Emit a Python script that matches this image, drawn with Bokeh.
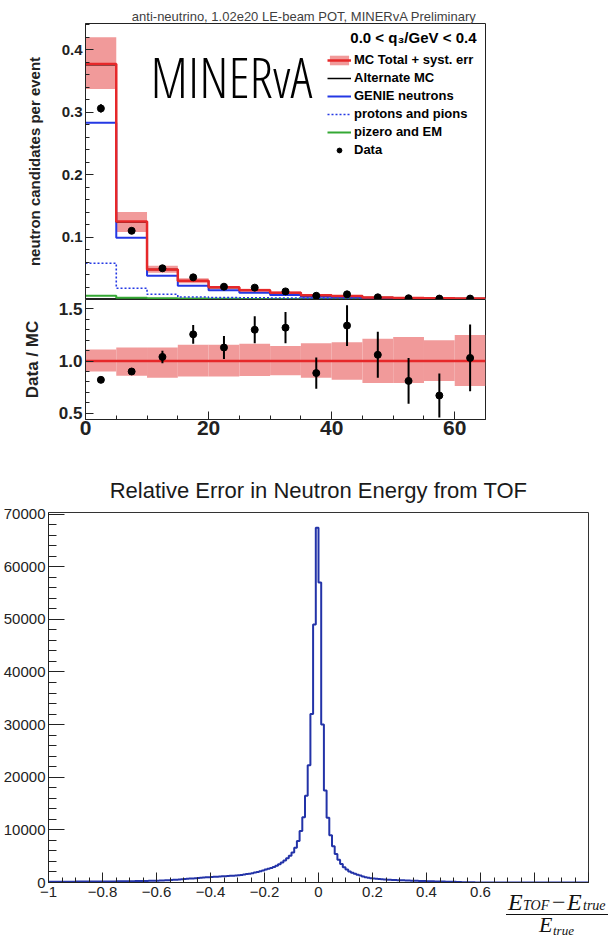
from bokeh.plotting import figure
from bokeh.models import (Range1d, FixedTicker, Label, Legend, LegendItem, Title, Div)
from bokeh.embed import file_html
from bokeh.resources import INLINE

# ---------------- top: MINERvA neutron candidates ----------------
bin_edges = [0, 5, 10, 15, 20, 25, 30, 35, 40, 45, 50, 55, 60, 65]
bin_centers = [2.5, 7.5, 12.5, 17.5, 22.5, 27.5, 32.5, 37.5, 42.5, 47.5, 52.5, 57.5, 62.5]

mc_total = [0.377, 0.125, 0.048, 0.030, 0.0195, 0.015, 0.011, 0.0067, 0.0058, 0.0032, 0.0025, 0.0020, 0.0015]
mc_band_hi = [0.420, 0.140, 0.054, 0.034, 0.0218, 0.0172, 0.0127, 0.0079, 0.0068, 0.0039, 0.0031, 0.0025, 0.0019]
mc_band_lo = [0.337, 0.108, 0.043, 0.026, 0.0172, 0.0128, 0.0094, 0.0056, 0.0046, 0.0025, 0.0019, 0.0015, 0.0011]
alt_mc = [0.376, 0.124, 0.048, 0.030, 0.0194, 0.015, 0.011, 0.0066, 0.0057, 0.0032, 0.0025, 0.0020, 0.0015]
genie_neutrons = [0.283, 0.099, 0.038, 0.022, 0.0147, 0.011, 0.0072, 0.0045, 0.0040, 0.0020, 0.0015, 0.0012, 0.0010]
protons_pions = [0.058, 0.018, 0.0083, 0.0040, 0.0030, 0.0028, 0.0025, 0.0022, 0.0022, 0.0012, 0.0010, 0.0008, 0.0006]
pizero_em = [0.006, 0.003, 0.0022, 0.0016, 0.0012, 0.0010, 0.0008, 0.0006, 0.0005, 0.0004, 0.0003, 0.0003, 0.0002]
data_vals = [0.306, 0.110, 0.050, 0.0355, 0.0205, 0.019, 0.013, 0.006, 0.0083, 0.0035, 0.002, 0.0015, 0.0015]
data_errs = [0.0065, 0.004, 0.0025, 0.002, 0.0018, 0.0018, 0.0015, 0.001, 0.0012, 0.0008, 0.0005, 0.0005, 0.0005]

ratio_vals = [0.82, 0.90, 1.04, 1.256, 1.13, 1.30, 1.32, 0.885, 1.34, 1.06, 0.81, 0.67, 1.03]
ratio_errs = [0.01, 0.02, 0.06, 0.09, 0.11, 0.13, 0.15, 0.15, 0.195, 0.22, 0.22, 0.21, 0.32]
ratio_band_hi = [1.11, 1.13, 1.13, 1.157, 1.157, 1.166, 1.144, 1.17, 1.18, 1.215, 1.23, 1.20, 1.25]
ratio_band_lo = [0.90, 0.86, 0.84, 0.853, 0.853, 0.856, 0.863, 0.84, 0.82, 0.79, 0.79, 0.81, 0.76]
ratio_mc = [1.0, 1.0, 1.0, 1.0, 1.0, 1.0, 1.0, 1.0, 1.0, 1.0, 1.0, 1.0, 1.0]

top_x_ticks = [0, 20, 40, 60]
top_x_minor = [5, 10, 15, 25, 30, 35, 45, 50, 55, 65]
top_y_ticks = [0.1, 0.2, 0.3, 0.4]
top_y_minor = [0.02, 0.04, 0.06, 0.08, 0.12, 0.14, 0.16, 0.18, 0.22, 0.24, 0.26, 0.28,
               0.32, 0.34, 0.36, 0.38, 0.42, 0.44]
ratio_y_ticks = [0.5, 1.0, 1.5]
ratio_y_labels = {0.5: "0.5", 1.0: "1.0", 1.5: "1.5"}
ratio_y_minor = [0.6, 0.7, 0.8, 0.9, 1.1, 1.2, 1.3, 1.4]

# ---------------- bottom: TOF relative error histogram ----------------
tof_lo = -1.0
tof_width = 0.01
tof_counts = [
    # -1.00 .. -0.78
    145, 150, 148, 152, 155, 153, 160, 158, 165, 163, 170, 168, 175, 172, 180, 178, 185, 183, 190, 188, 195, 197,
    # -0.78 .. -0.61
    200, 205, 210, 214, 220, 226, 234, 241, 250, 256, 265, 274, 284, 291, 300, 309, 320,
    # -0.61 .. -0.50
    330, 349, 372, 398, 421, 449, 481, 509, 542, 578, 620,
    # -0.50 .. -0.40
    662, 701, 739, 782, 818, 861, 899, 942, 979, 1021,
    # -0.40 .. -0.30
    1048, 1083, 1107, 1142, 1168, 1203, 1228, 1262, 1298, 1341,
    # -0.30 .. -0.20
    1392, 1448, 1523, 1598, 1684, 1777, 1884, 1998, 2153, 2297,
    # -0.20 .. -0.10
    2452, 2603, 2778, 2952, 3198, 3452, 3802, 4203, 4597, 5104,
    # -0.10 .. 0.00
    5700, 6600, 7900, 9800, 12400, 16500, 22300, 32000, 49000, 67400,
    # 0.00 .. 0.10
    57000, 30000, 17500, 12300, 9000, 6900, 5400, 4300, 3500, 2900,
    # 0.10 .. 0.20
    2450, 2100, 1850, 1650, 1480, 1320, 1150, 1020, 900, 800,
    # 0.20 .. 0.30
    760, 700, 650, 610, 570, 540, 510, 490, 470, 450,
    # 0.30 .. 0.40
    430, 410, 390, 370, 350, 330, 310, 295, 280, 265,
    # 0.40 .. 0.50
    250, 235, 220, 205, 195, 180, 170, 160, 150, 140,
    # 0.50 .. 0.60
    120, 100, 80, 60, 45, 35, 30, 25, 20, 18,
    # 0.60 .. 0.70
    15, 14, 12, 11, 10, 9, 8, 8, 7, 6,
    # 0.70 .. 0.80
    6, 5, 5, 4, 4, 4, 3, 3, 3, 2,
    # 0.80 .. 0.90
    2, 2, 2, 2, 1, 1, 1, 1, 1, 1,
    # 0.90 .. 1.00
    1, 1, 1, 0, 0, 0, 0, 0, 0, 0,
]
tof_edges = [round(tof_lo + i * tof_width, 2) for i in range(len(tof_counts) + 1)]

tof_x_ticks = [-1.0, -0.8, -0.6, -0.4, -0.2, 0.0, 0.2, 0.4, 0.6, 0.8, 1.0]
tof_x_labels = {-1.0: "\u22121", -0.8: "\u22120.8", -0.6: "\u22120.6", -0.4: "\u22120.4",
                -0.2: "\u22120.2", 0.0: "0", 0.2: "0.2", 0.4: "0.4", 0.6: "0.6",
                0.8: "", 1.0: ""}
tof_x_minor = [round(-1.0 + 0.05 * i, 2) for i in range(41)]
tof_y_ticks = [0, 10000, 20000, 30000, 40000, 50000, 60000, 70000]
tof_y_minor = [2000 * i for i in range(36)]

# ---------------- styles ----------------
BAND = "#f19a9a"
RED = "#e6282a"
BLUE = "#2438e4"
GREEN = "#34a834"
HIST_BLUE = "#2333a8"
AX = "#222222"
SANS = "Liberation Sans"
SERIF = "Liberation Serif"
W = 616


def style_ticks(ax, major_in, minor_in):
    ax.major_tick_in = major_in
    ax.major_tick_out = 0
    ax.minor_tick_in = minor_in
    ax.minor_tick_out = 0
    ax.major_tick_line_color = AX
    ax.minor_tick_line_color = AX
    ax.axis_line_color = AX


def step_y(v):
    return list(v) + [v[-1]]


# ================= top main panel =================
p1 = figure(width=W, height=299, x_range=Range1d(0, 65), y_range=Range1d(0, 0.442),
            output_backend="svg", toolbar_location=None,
            min_border_left=85, min_border_right=131, min_border_top=23, min_border_bottom=0)
p1.grid.visible = False
p1.outline_line_color = AX
p1.xaxis.visible = False
p1.title = Title(text="anti-neutrino, 1.02e20 LE-beam POT, MINERvA Preliminary",
                 align="right", offset=9, standoff=0, text_font=SANS,
                 text_font_style="normal", text_font_size="13px", text_color="#3f3f3f")

band_r = p1.quad(left=bin_edges[:-1], right=bin_edges[1:], bottom=mc_band_lo, top=mc_band_hi,
                 fill_color=BAND, line_color=None)
pz_r = p1.step(x=bin_edges, y=step_y(pizero_em), mode="after", line_color=GREEN, line_width=2)
pp_r = p1.step(x=bin_edges, y=step_y(protons_pions), mode="after", line_color=BLUE,
               line_width=1.6, line_dash="2 2")
gn_r = p1.step(x=bin_edges, y=step_y(genie_neutrons), mode="after", line_color=BLUE, line_width=2)
alt_r = p1.step(x=bin_edges, y=step_y(alt_mc), mode="after", line_color="black", line_width=1.5)
red_r = p1.step(x=bin_edges, y=step_y(mc_total), mode="after", line_color=RED, line_width=2.5)
p1.segment(x0=bin_centers, x1=bin_centers,
           y0=[d - e for d, e in zip(data_vals, data_errs)],
           y1=[d + e for d, e in zip(data_vals, data_errs)], line_color="black", line_width=2)
dat_r = p1.scatter(x=bin_centers, y=data_vals, size=7, color="black")

ya = p1.yaxis[0]
ya.ticker = FixedTicker(ticks=top_y_ticks, minor_ticks=top_y_minor)
style_ticks(ya, 8, 4)
ya.major_label_text_font = SANS
ya.major_label_text_font_style = "bold"
ya.major_label_text_font_size = "15px"
ya.major_label_text_color = AX
ya.major_label_standoff = 3
ya.axis_label = "neutron candidates per event"
ya.axis_label_text_font = SANS
ya.axis_label_text_font_style = "bold"
ya.axis_label_text_font_size = "15px"
ya.axis_label_text_color = AX
ya.axis_label_standoff = 16

p1.add_layout(Label(x=65, y=223, x_units="screen", y_units="screen", text="MINERvA",
                    text_font="'Open Sans Condensed Light', 'Roboto Condensed Light', 'Liberation Sans Narrow', 'DejaVu Sans Condensed', 'Open Sans'",
                    text_font_size="55px", text_color="black",
                    text_align="left", text_baseline="middle"))
p1.add_layout(Label(x=391, y=262, x_units="screen", y_units="screen",
                    text="0.0 < q\u2083/GeV < 0.4",
                    text_font=SANS, text_font_style="bold", text_font_size="15px",
                    text_color="black", text_align="right", text_baseline="middle"))

legend = Legend(items=[
    LegendItem(label="MC Total + syst. err", renderers=[band_r, red_r]),
    LegendItem(label="Alternate MC", renderers=[alt_r]),
    LegendItem(label="GENIE neutrons", renderers=[gn_r]),
    LegendItem(label="protons and pions", renderers=[pp_r]),
    LegendItem(label="pizero and EM", renderers=[pz_r]),
    LegendItem(label="Data", renderers=[dat_r]),
], location=(242, 142))
legend.padding = 0
legend.margin = 0
legend.spacing = 3
legend.glyph_width = 24
legend.glyph_height = 12
legend.label_height = 15
legend.label_standoff = 3
legend.label_text_font = SANS
legend.label_text_font_style = "bold"
legend.label_text_font_size = "13px"
legend.label_text_color = "black"
legend.background_fill_alpha = 0
legend.border_line_alpha = 0
p1.add_layout(legend)

# ================= ratio panel =================
p2 = figure(width=W, height=147, x_range=p1.x_range, y_range=Range1d(0.44, 1.59),
            output_backend="svg", toolbar_location=None,
            min_border_left=85, min_border_right=131, min_border_top=0, min_border_bottom=27)
p2.grid.visible = False
p2.outline_line_color = AX
p2.quad(left=bin_edges[:-1], right=bin_edges[1:], bottom=ratio_band_lo, top=ratio_band_hi,
        fill_color=BAND, line_color=None)
p2.step(x=bin_edges, y=step_y(ratio_mc), mode="after", line_color=RED, line_width=2.5)
p2.segment(x0=bin_centers, x1=bin_centers,
           y0=[r - e for r, e in zip(ratio_vals, ratio_errs)],
           y1=[r + e for r, e in zip(ratio_vals, ratio_errs)], line_color="black", line_width=2)
p2.scatter(x=bin_centers, y=ratio_vals, size=7, color="black")

xb = p2.xaxis[0]
xb.ticker = FixedTicker(ticks=top_x_ticks, minor_ticks=top_x_minor)
style_ticks(xb, 8, 4)
xb.major_label_text_font = SANS
xb.major_label_text_font_style = "bold"
xb.major_label_text_font_size = "21px"
xb.major_label_text_color = AX
xb.major_label_standoff = 1

yb = p2.yaxis[0]
yb.ticker = FixedTicker(ticks=ratio_y_ticks, minor_ticks=ratio_y_minor)
yb.major_label_overrides = ratio_y_labels
style_ticks(yb, 8, 4)
yb.major_label_text_font = SANS
yb.major_label_text_font_style = "bold"
yb.major_label_text_font_size = "17px"
yb.major_label_text_color = AX
yb.major_label_standoff = 3
yb.axis_label = "Data / MC"
yb.axis_label_text_font = SANS
yb.axis_label_text_font_style = "bold"
yb.axis_label_text_font_size = "17px"
yb.axis_label_text_color = AX
yb.axis_label_standoff = 14

# ================= bottom TOF histogram =================
p3 = figure(width=W, height=492, x_range=Range1d(-1, 1), y_range=Range1d(0, 70300),
            output_backend="svg", toolbar_location=None,
            min_border_left=38, min_border_right=28, min_border_top=66, min_border_bottom=56)
p3.grid.visible = False
p3.outline_line_color = "#333333"
p3.title = Title(text="Relative Error in Neutron Energy from TOF", align="center",
                 standoff=20, text_font=SANS, text_font_style="normal",
                 text_font_size="22px", text_color="#1a1a1a")
p3.step(x=tof_edges, y=step_y(tof_counts), mode="after", line_color=HIST_BLUE, line_width=2)

xc = p3.xaxis[0]
xc.ticker = FixedTicker(ticks=tof_x_ticks, minor_ticks=tof_x_minor)
xc.major_label_overrides = tof_x_labels
style_ticks(xc, 10, 5)
xc.major_label_text_font = SANS
xc.major_label_text_font_size = "15px"
xc.major_label_text_color = AX
xc.major_label_standoff = 4

yc = p3.yaxis[0]
yc.ticker = FixedTicker(ticks=tof_y_ticks, minor_ticks=tof_y_minor)
style_ticks(yc, 16, 8)
yc.major_label_text_font = SANS
yc.major_label_text_font_size = "15px"
yc.major_label_text_color = AX
yc.major_label_standoff = 3

# ================= x-axis quantity: (E_TOF - E_true) / E_true =================
FR_W, FR_H = 116, 50
frac_html = (
    f'<div style="position:relative;width:{FR_W}px;height:{FR_H}px;overflow:hidden;'
    f'font-family:\'{SERIF}\';color:#111111;line-height:1;">'
    '<span style="position:absolute;left:8px;top:2px;font-size:24px;font-style:italic;">E</span>'
    '<span style="position:absolute;left:23px;top:11px;font-size:14px;font-style:italic;">TOF</span>'
    '<span style="position:absolute;left:52px;top:2px;font-size:24px;">\u2212</span>'
    '<span style="position:absolute;left:67px;top:2px;font-size:24px;font-style:italic;">E</span>'
    '<span style="position:absolute;left:83px;top:11px;font-size:14px;font-style:italic;">true</span>'
    '<div style="position:absolute;left:6px;top:25.5px;width:102px;height:1.5px;background:#111111;"></div>'
    '<span style="position:absolute;left:39px;top:26px;font-size:22px;font-style:italic;">E</span>'
    '<span style="position:absolute;left:53px;top:36px;font-size:13px;font-style:italic;">true</span>'
    '</div>'
)
frac = Div(text=frac_html, width=FR_W, height=FR_H,
           styles={"margin-top": f"-{FR_H}px", "margin-left": "500px"})

# separate roots so that the plots' borders are not aligned with each other
open("out.html", "w").write(file_html([p1, p2, p3, frac], INLINE))
